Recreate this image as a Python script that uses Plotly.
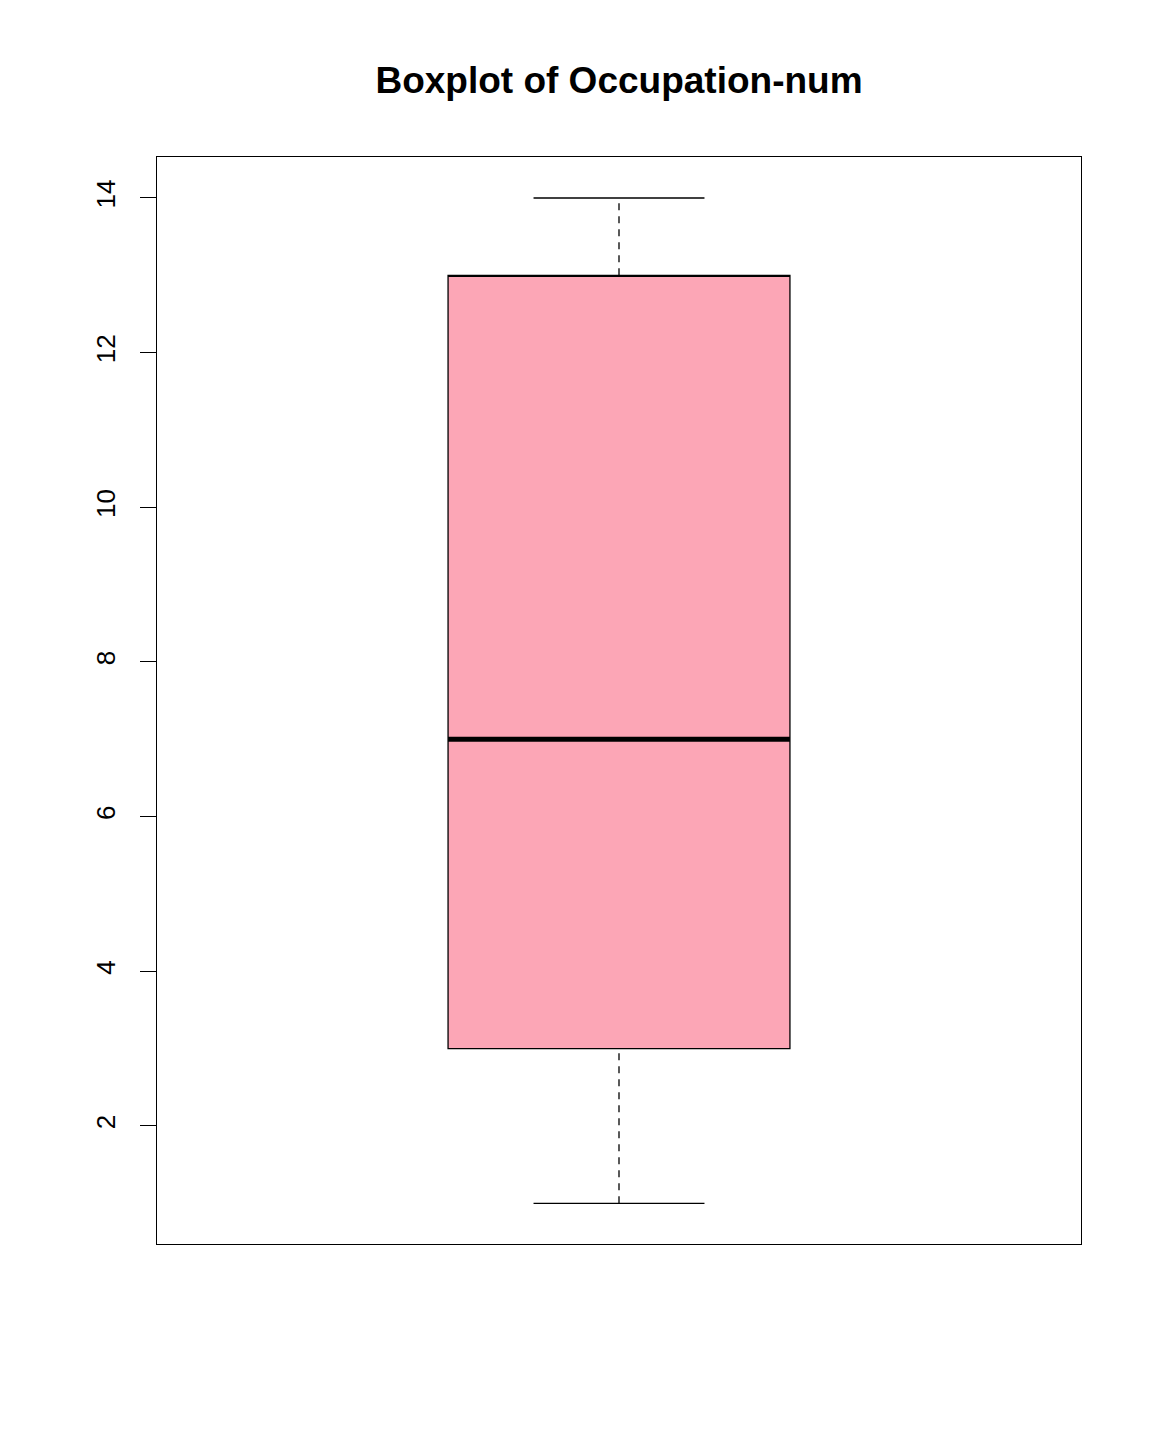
import plotly.graph_objects as go

# five-number summary of Occupation-num
q1 = [3]
median = [7]
q3 = [13]
lower = [1]
upper = [14]
pos = [1]

box_half = 0.185
cap_half = 0.0925

fig = go.Figure()

# box only (fences set to quartiles so plotly draws no whiskers)
fig.add_trace(go.Box(
    x=pos, q1=q1, median=q3, q3=q3, lowerfence=q1, upperfence=q3,
    width=box_half * 2, fillcolor='#FCA6B6',
    line=dict(color='black', width=1.3), hoverinfo='skip'
))

# median
fig.add_trace(go.Scatter(
    x=[pos[0] - box_half, pos[0] + box_half], y=[median[0], median[0]],
    mode='lines', line=dict(color='black', width=5)
))

# dashed whiskers
for a, b in [(lower[0], q1[0]), (q3[0], upper[0])]:
    fig.add_trace(go.Scatter(
        x=[pos[0], pos[0]], y=[a, b], mode='lines',
        line=dict(color='black', width=1.3, dash='7px,6px')
    ))

# caps
for v in [lower[0], upper[0]]:
    fig.add_trace(go.Scatter(
        x=[pos[0] - cap_half, pos[0] + cap_half], y=[v, v],
        mode='lines', line=dict(color='black', width=1.3)
    ))

fig.update_layout(
    width=1162, height=1440,
    margin=dict(l=149, r=89, t=149, b=204),
    plot_bgcolor='white', paper_bgcolor='white',
    showlegend=False,
    font=dict(family='Liberation Sans, Arial', color='black', size=26),
    title=dict(text='<b>Boxplot of Occupation-num</b>', x=611 / 1162, xanchor='center',
               y=1 - 72 / 1440, yanchor='middle', font=dict(size=37)),
    xaxis=dict(range=[0.5, 1.5], showticklabels=False, ticks='', showgrid=False,
               zeroline=False, showline=True, mirror=True, linecolor='black', linewidth=1.3),
    yaxis=dict(range=[0.474, 14.53], tickvals=[2, 4, 6, 8, 10, 12, 14],
               tickangle=-90, ticks='outside', ticklen=16, tickwidth=1.3,
               tickcolor='black', showgrid=False, zeroline=False, ticklabelstandoff=14,
               showline=True, mirror=True, linecolor='black', linewidth=1.3),
)

fig.write_html("out.html")
